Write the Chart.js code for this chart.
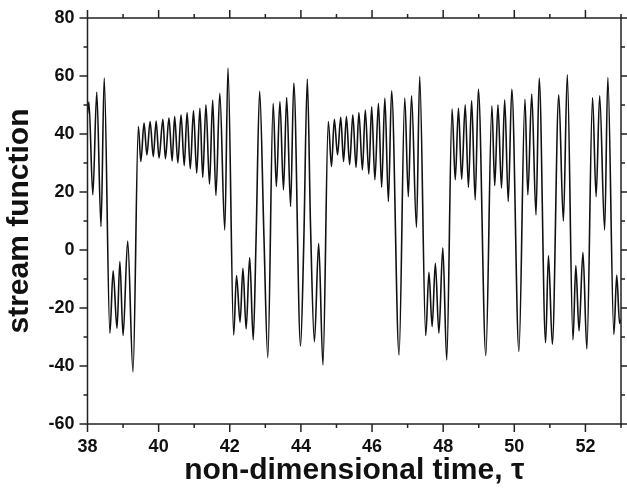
<!DOCTYPE html>
<html>
<head>
<meta charset="utf-8">
<script src="https://cdn.jsdelivr.net/npm/chart.js@4/dist/chart.umd.min.js"></script>
<style>
  html, body { margin: 0; padding: 0; background: #fff; }
</style>
</head>
<body>
<canvas id="myChart" width="627" height="495"></canvas>
<script>
// time samples (turning points)
var tau = [
  38.00, 38.04, 38.15, 38.26, 38.38, 38.47, 38.63, 38.72, 38.83, 38.91,
  39.00, 39.13, 39.28, 39.43, 39.50, 39.59, 39.67, 39.76, 39.85, 39.93,
  40.01, 40.12, 40.19, 40.29, 40.38, 40.45, 40.54, 40.63, 40.72, 40.80,
  40.89, 40.98, 41.07, 41.16, 41.24, 41.33, 41.43, 41.52, 41.61, 41.72,
  41.86, 41.95, 42.11, 42.19, 42.29, 42.37, 42.46, 42.56, 42.66, 42.74,
  42.84, 42.96, 43.07, 43.22, 43.31, 43.41, 43.51, 43.60, 43.71, 43.80,
  43.99, 44.08, 44.18, 44.27, 44.38, 44.50, 44.62, 44.77, 44.86, 44.94,
  45.03, 45.12, 45.20, 45.28, 45.37, 45.46, 45.55, 45.63, 45.73, 45.81,
  45.91, 45.99, 46.08, 46.18, 46.27, 46.36, 46.46, 46.55, 46.76, 46.92,
  47.02, 47.11, 47.25, 47.34, 47.51, 47.60, 47.69, 47.78, 47.88, 47.99,
  48.10, 48.25, 48.34, 48.43, 48.52, 48.62, 48.71, 48.80, 48.90, 48.99,
  49.20, 49.37, 49.45, 49.54, 49.64, 49.73, 49.83, 49.93, 50.13, 50.30,
  50.38, 50.49, 50.61, 50.70, 50.88, 50.96, 51.07, 51.25, 51.38, 51.49,
  51.65, 51.73, 51.82, 51.93, 52.04, 52.20, 52.30, 52.40, 52.54, 52.63,
  52.80, 52.88, 52.96, 53.00
];
// stream function at those times
var psi = [
  47.0, 51.0, 19.0, 54.4, 8.1, 59.3, -28.7, -7.2, -27.0, -4.0,
  -29.5, 3.1, -42.0, 42.6, 30.5, 43.8, 32.8, 44.3, 32.2, 44.5,
  31.7, 45.1, 31.4, 45.5, 30.7, 46.0, 30.0, 46.6, 29.1, 47.4,
  28.0, 48.1, 26.5, 48.9, 25.0, 50.1, 22.7, 51.7, 18.8, 54.0,
  6.9, 62.7, -29.3, -8.8, -24.9, -6.3, -27.2, -2.6, -31.0, 4.0,
  54.7, 5.0, -37.1, 50.6, 21.9, 51.2, 20.7, 52.6, 15.0, 57.6,
  -33.1, 2.0, 58.9, 8.7, -31.6, 2.3, -39.6, 44.3, 28.8, 45.1,
  32.8, 45.8, 30.5, 46.0, 29.4, 46.6, 28.5, 47.4, 27.6, 48.3,
  26.2, 49.4, 24.2, 50.6, 21.6, 52.4, 16.7, 54.9, -36.2, 52.4,
  18.4, 53.2, 7.8, 59.8, -29.5, -7.7, -26.4, -4.6, -28.7, 0.8,
  -37.9, 48.6, 24.2, 48.9, 24.4, 50.1, 21.6, 51.5, 17.3, 55.5,
  -36.4, 49.7, 22.2, 50.1, 21.3, 51.8, 16.7, 55.5, -35.0, 52.0,
  19.0, 53.8, 12.1, 59.3, -32.0, -1.9, -32.5, 53.5, 10.0, 60.4,
  -31.0, -5.4, -27.9, -0.8, -34.1, 52.6, 18.4, 53.2, 6.9, 59.5,
  -29.1, -8.6, -25.3, -24.0
];

var xMajor = [38, 40, 42, 44, 46, 48, 50, 52];
var xMinor = [39, 41, 43, 45, 47, 49, 51, 53];
var yMajor = [-60, -40, -20, 0, 20, 40, 60, 80];
var yMinor = [-50, -30, -10, 10, 30, 50, 70];

var points = [];
for (var i in tau) {
  points.push({ x: tau[i], y: psi[i] });
}

// box round the plot plus outward ticks on all four sides
var frameTicks = {
  id: 'frameTicks',
  afterDraw: function(chart) {
    var ctx = chart.ctx;
    var a = chart.chartArea;
    var sx = chart.scales.x, sy = chart.scales.y;
    ctx.save();
    ctx.strokeStyle = '#222';
    ctx.lineWidth = 1.5;
    ctx.strokeRect(a.left, a.top, a.right - a.left, a.bottom - a.top);
    ctx.beginPath();
    function xt(v, len) {
      var p = sx.getPixelForValue(v);
      ctx.moveTo(p, a.bottom); ctx.lineTo(p, a.bottom + len);
      ctx.moveTo(p, a.top); ctx.lineTo(p, a.top - len);
    }
    function yt(v, len) {
      var p = sy.getPixelForValue(v);
      ctx.moveTo(a.left, p); ctx.lineTo(a.left - len, p);
      ctx.moveTo(a.right, p); ctx.lineTo(a.right + len, p);
    }
    xMajor.forEach(function(v) { xt(v, 8); });
    xMinor.forEach(function(v) { xt(v, 4); });
    yMajor.forEach(function(v) { yt(v, 8); });
    yMinor.forEach(function(v) { yt(v, 4); });
    ctx.stroke();
    ctx.restore();
  }
};

var chart = new Chart(document.getElementById('myChart'), {
  type: 'line',
  data: {
    datasets: [{
      label: 'stream function',
      data: points,
      borderColor: '#111',
      borderWidth: 1.6,
      pointRadius: 0,
      fill: false,
      cubicInterpolationMode: 'monotone'
    }]
  },
  options: {
    responsive: false,
    animation: false,
    layout: { padding: { top: 18, right: 6, left: 0, bottom: 0 } },
    plugins: {
      legend: { display: false },
      tooltip: { enabled: false }
    },
    scales: {
      x: {
        type: 'linear',
        min: 38,
        max: 53,
        grid: { display: false },
        border: { display: false },
        afterBuildTicks: function(scale) {
          scale.ticks = xMajor.map(function(v) { return { value: v }; });
        },
        afterFit: function(scale) { scale.height = 71; },
        ticks: {
          color: '#111',
          padding: 4,
          maxRotation: 0,
          font: { family: 'Liberation Sans, Arial', size: 18, weight: 'bold' }
        },
        title: {
          display: true,
          text: 'non-dimensional time, τ',
          color: '#111',
          padding: { top: 0, bottom: 6 },
          font: { family: 'Liberation Sans, Arial', size: 30, weight: 'bold' }
        }
      },
      y: {
        min: -60,
        max: 80,
        grid: { display: false },
        border: { display: false },
        afterBuildTicks: function(scale) {
          scale.ticks = yMajor.map(function(v) { return { value: v }; });
        },
        afterFit: function(scale) { scale.width = 87.5; },
        ticks: {
          color: '#111',
          padding: 5,
          font: { family: 'Liberation Sans, Arial', size: 18, weight: 'bold' }
        },
        title: {
          display: true,
          text: 'stream function',
          color: '#111',
          padding: { top: 2, bottom: 2 },
          font: { family: 'Liberation Sans, Arial', size: 30, weight: 'bold' }
        }
      }
    }
  },
  plugins: [frameTicks]
});
</script>
</body>
</html>
